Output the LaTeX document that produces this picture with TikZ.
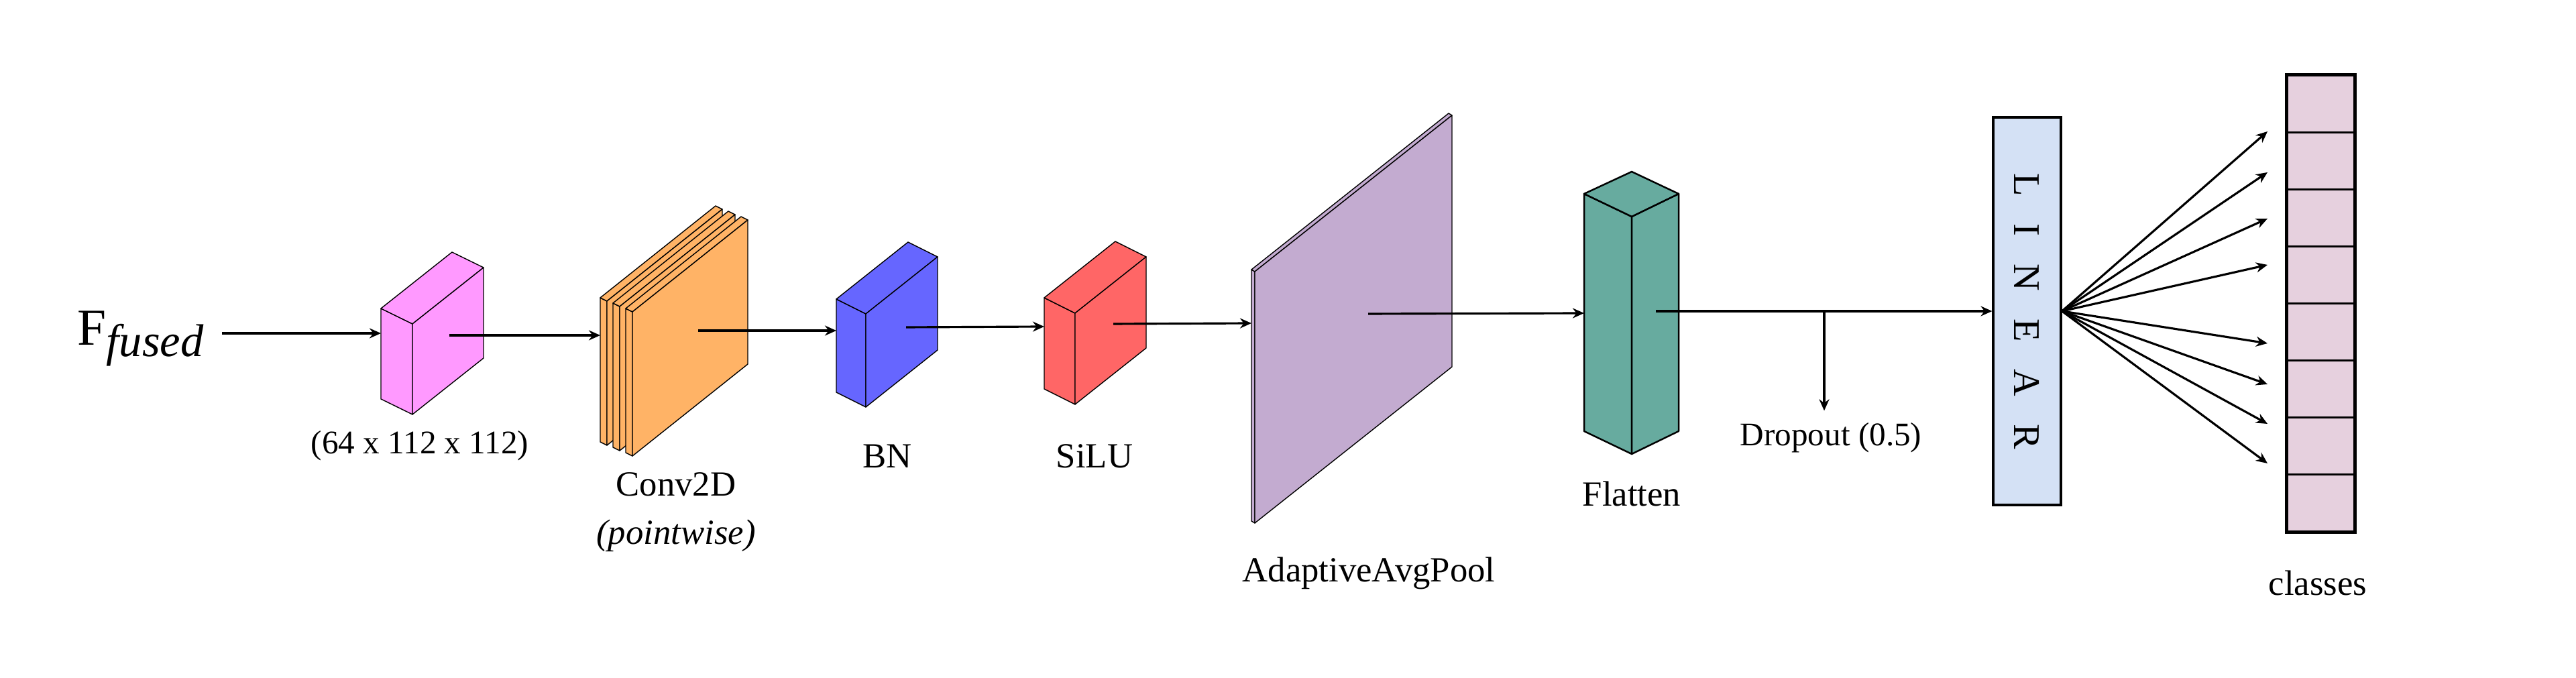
\documentclass[tikz,border=0pt]{standalone}
\usepackage{fontspec}
\setmainfont{Liberation Serif}
\usetikzlibrary{arrows.meta}

\definecolor{inpink}{HTML}{FF99FF}
\definecolor{convorange}{HTML}{FFB366}
\definecolor{bnblue}{HTML}{6666FF}
\definecolor{silured}{HTML}{FF6666}
\definecolor{poolpurple}{HTML}{C3ABD0}
\definecolor{flatteal}{HTML}{67AB9F}
\definecolor{linblue}{HTML}{D4E1F5}
\definecolor{clspink}{HTML}{E6D0DE}

\tikzset{
    boxline/.style={draw=black, line width=0.4pt, line join=round},
    arr/.style={-{Stealth[length=1.7mm,width=1.5mm]}, line width=0.9pt},
    lbl/.style={inner sep=0pt, font=\fontsize{15}{20.4}\selectfont},
    smalllbl/.style={inner sep=0pt, font=\fontsize{14}{17}\selectfont},
    cell/.style={draw, line width=0.8pt, fill=clspink, minimum width=0.99cm, minimum height=0.849cm, inner sep=0pt},
}

% front-left-top corner (x,y), front edge (wx,wy), depth (dx,dy), height, fill
\newcommand{\drawcuboid}[8]{%
    \filldraw[boxline, fill=#8] (#1,#2) -- ++(#3,#4) -- ++(0,-#7) -- ++({-(#3)},{-(#4)}) -- cycle;
    \filldraw[boxline, fill=#8] (#1,#2) -- ++(#5,#6) -- ++(#3,#4) -- ++({-(#5)},{-(#6)}) -- cycle;
    \filldraw[boxline, fill=#8] (#1,#2) ++(#3,#4) -- ++(#5,#6) -- ++(0,-#7) -- ++({-(#5)},{-(#6)}) -- cycle;
}

\begin{document}
\begin{tikzpicture}
    \useasboundingbox (0,0) rectangle (38.41,10.11);

    % input
    \node[inner sep=0pt, anchor=base west] (fin) at (1.15,4.96)
        {\fontsize{22}{26}\selectfont F\raisebox{-1.7mm}{\fontsize{19.5}{22}\selectfont\textit{fused}}};
    \drawcuboid{5.68}{5.51}{0.47}{-0.23}{1.06}{0.84}{1.35}{inpink}
    \node[smalllbl] (dimlbl) at (6.26,3.46) {(64 x 112 x 112)};

    % pointwise conv
    \foreach \sx/\sy in {8.95/5.67, 9.14/5.59, 9.33/5.51}
        \drawcuboid{\sx}{\sy}{0.10}{-0.05}{1.72}{1.37}{2.15}{convorange};
    \node[lbl, align=center] (convlbl) at (10.08,2.47) {Conv2D\\\textit{(pointwise)}};

    % BN, SiLU
    \drawcuboid{12.47}{5.65}{0.44}{-0.22}{1.07}{0.85}{1.39}{bnblue}
    \node[lbl] (bnlbl) at (13.23,3.31) {BN};
    \drawcuboid{15.57}{5.67}{0.46}{-0.23}{1.06}{0.84}{1.36}{silured}
    \node[lbl] (silulbl) at (16.32,3.31) {SiLU};

    % pooling
    \drawcuboid{18.66}{6.09}{0.05}{-0.03}{2.94}{2.33}{3.75}{poolpurple}
    \node[lbl] (poollbl) at (20.41,1.56) {AdaptiveAvgPool};

    % flatten
    \coordinate (tL) at (23.62,7.22);
    \coordinate (tB) at (24.33,7.55);
    \coordinate (tR) at (25.03,7.22);
    \coordinate (tF) at (24.33,6.88);
    \filldraw[boxline, line width=0.7pt, fill=flatteal] (tL) -- (tF) -- ++(0,-3.54) -- ++(-0.71,0.34) -- cycle;
    \filldraw[boxline, line width=0.7pt, fill=flatteal] (tF) -- (tR) -- ++(0,-3.54) -- ++(-0.70,-0.34) -- cycle;
    \filldraw[boxline, line width=0.7pt, fill=flatteal] (tL) -- (tB) -- (tR) -- (tF) -- cycle;
    \node[lbl] (flatlbl) at (24.33,2.75) {Flatten};

    % linear layer and classes
    \node[draw, line width=0.9pt, fill=linblue, minimum width=1.01cm, minimum height=5.78cm, inner sep=0pt] (linear) at (30.225,5.47) {};
    \node[rotate=-90, inner sep=0pt, font=\fontsize{16}{19}\selectfont] (lintxt) at (linear.center)
        {L\hspace{4.1mm}I\hspace{4.1mm}N\hspace{4.1mm}E\hspace{4.1mm}A\hspace{4.1mm}R};
    \foreach \i in {1,...,8}
        \node[cell] (cls\i) at (34.605,{8.98-0.849*(\i-0.5)}) {};
    \draw[line width=1.3pt] (cls1.north west) rectangle (cls8.south east);
    \node[lbl] (clslbl) at (34.56,1.42) {classes};
    \node[smalllbl, inner ysep=5pt] (dropout) at (27.30,3.58) {Dropout (0.5)};

    % arrow ends
    \coordinate (inL) at (5.68,5.14);
    \coordinate (inR) at (6.70,5.11);
    \coordinate (convL) at (8.95,5.11);
    \coordinate (convR) at (10.41,5.18);
    \coordinate (bnL) at (12.47,5.18);
    \coordinate (bnR) at (13.51,5.23);
    \coordinate (siluL) at (15.57,5.24);
    \coordinate (siluR) at (16.60,5.28);
    \coordinate (poolL) at (18.66,5.29);
    \coordinate (poolR) at (20.40,5.43);
    \coordinate (flatL) at (23.62,5.44);
    \coordinate (flatR) at (24.69,5.47);
    \coordinate (drop) at (27.20,5.47);

    \draw[arr, shorten <=2.7mm] (fin.east |- inL) -- (inL);
    \draw[arr] (inR) -- (convL);
    \draw[arr] (convR) -- (bnL);
    \draw[arr] (bnR) -- (siluL);
    \draw[arr] (siluR) -- (poolL);
    \draw[arr] (poolR) -- (flatL);
    \draw[arr] (flatR) -- (linear.west);
    \draw[arr] (drop) -- (drop |- dropout.north);

    % fan out to the classes
    \foreach \y [count=\i] in {8.15,7.54,6.85,6.16,4.99,4.38,3.79,3.20} {
        \coordinate (tip\i) at (33.81,\y);
        \draw[arr] (linear.east) -- (tip\i);
    }
\end{tikzpicture}
\end{document}
